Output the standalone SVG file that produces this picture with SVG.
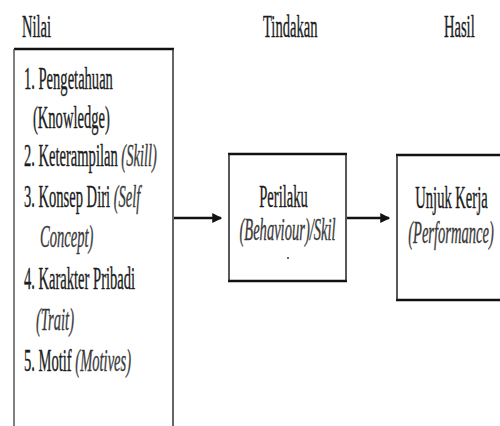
<svg xmlns="http://www.w3.org/2000/svg" width="500" height="426" viewBox="0 0 500 426">
<style>
text{font-family:"Liberation Serif","Times New Roman",serif;font-size:32px;fill:#1c1c1c;stroke:#1c1c1c;stroke-width:0.4}
.i{font-style:italic;fill:#3a3a3a;stroke:#3a3a3a}
.m{text-anchor:middle}
.thick{stroke:#111;stroke-width:2.5;fill:none}
.side{stroke:#555;stroke-width:1.5;fill:none}
.conn{stroke:#111;stroke-width:2.5;fill:none}
</style>
<defs>
<marker id="ah" markerWidth="4" markerHeight="4" refX="3.5" refY="2" orient="auto" markerUnits="strokeWidth">
<path d="M0,0 L4,2 L0,4 Z" fill="#111"/>
</marker>
</defs>
<g id="headers" transform="scale(0.455,1)">
<text x="48.4" y="37">Nilai</text>
<text x="578" y="37">Tindakan</text>
<text x="975.8" y="37">Hasil</text>
</g>
<g id="nilai">
<path class="thick" d="M14,49 H174"/>
<path class="side" d="M14,49 V426"/>
<path class="side" d="M173,49 V426" style="stroke:#333"/>
<g transform="scale(0.455,1)">
<text x="52.7" y="89">1. Pengetahuan</text>
<text x="72.5" y="128">(Knowledge)</text>
<text x="52.7" y="166">2. Keterampilan <tspan class="i">(Skill)</tspan></text>
<text x="52.7" y="207">3. Konsep Diri <tspan class="i">(Self</tspan></text>
<text class="i" x="87.9" y="247">Concept)</text>
<text x="52.7" y="289">4. Karakter Pribadi</text>
<text class="i" x="79.1" y="330">(Trait)</text>
<text x="52.7" y="371">5. Motif <tspan class="i">(Motives)</tspan></text>
</g>
</g>
<g id="perilaku">
<path class="thick" d="M228,154 H347 M228,281 H347"/>
<path class="side" d="M229,154 V281 M346,154 V281" style="stroke:#222"/>
<g transform="scale(0.455,1)">
<text class="m" x="623.1" y="207">Perilaku</text>
<text class="m i" x="631.9" y="240">(Behaviour)/Skil</text>
</g>
<circle cx="288" cy="258" r="1" fill="#333"/>
</g>
<g id="unjuk">
<path class="thick" d="M396,155 H500 M396,300 H500"/>
<path class="side" d="M397,155 V300" style="stroke:#222"/>
<g transform="scale(0.455,1)">
<text class="m" x="992.3" y="208">Unjuk Kerja</text>
<text class="m i" x="991.2" y="243">(Performance)</text>
</g>
</g>
<g id="connectors">
<line class="conn" x1="174" y1="218" x2="221" y2="218" marker-end="url(#ah)"/>
<line class="conn" x1="347" y1="218" x2="389" y2="218" marker-end="url(#ah)"/>
</g>
</svg>
